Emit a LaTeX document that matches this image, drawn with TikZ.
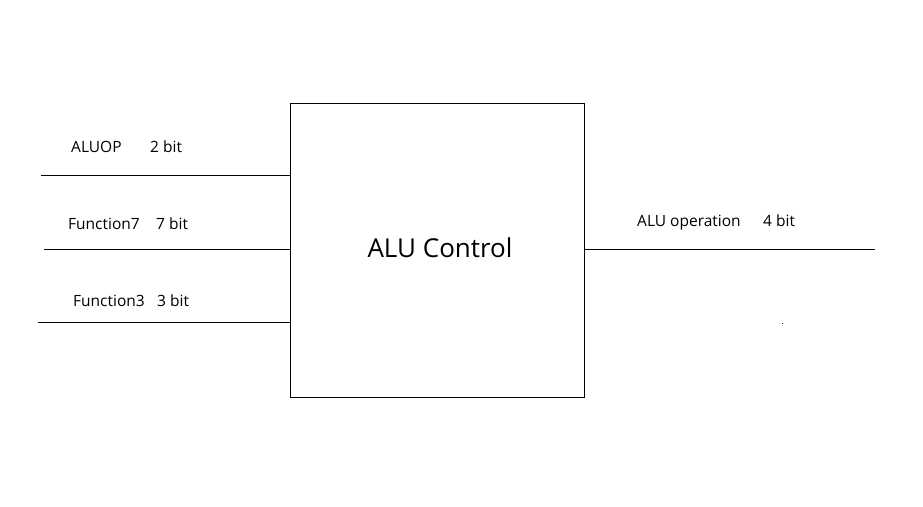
\documentclass[tikz,border=0pt]{standalone}
\usepackage{fontspec}
\setmainfont{Open Sans}
\usetikzlibrary{calc}

\begin{document}
\begin{tikzpicture}[
    x=1pt, y=-1pt,
    ctrl box/.style={draw, thin, minimum width=294pt, minimum height=294pt, inner sep=0pt},
    sig line/.style={thin},
    sig label/.style={anchor=base west, inner sep=0pt, font=\fontsize{15.5}{18}\selectfont}
    ]

    % frame
    \useasboundingbox (0,0) rectangle (923,506);

    % control block
    \node[ctrl box] (ctrl) at (437,250) {};
    \node[inner sep=0pt, font=\fontsize{26}{30}\selectfont] (ctrltext) at (440,248) {ALU Control};

    % input ends
    \coordinate (aluop) at (41,175);
    \coordinate (funct7) at (44,249);
    \coordinate (funct3) at (38,322);
    % output end
    \coordinate (aluoper) at (875,249);

    % inputs
    \draw[sig line] (aluop) -- (aluop -| ctrl.west);
    \draw[sig line] (funct7) -- (funct7 -| ctrl.west);
    \draw[sig line] (funct3) -- (funct3 -| ctrl.west);
    % output
    \draw[sig line] (aluoper -| ctrl.east) -- (aluoper);

    % labels
    \node[sig label] (aluopname) at (71,152) {ALUOP};
    \node[sig label] (aluopwidth) at (150,152) {2 bit};
    \node[sig label] (funct7name) at (68,229) {Function7};
    \node[sig label] (funct7width) at (156,229) {7 bit};
    \node[sig label] (funct3name) at (73,306) {Function3};
    \node[sig label] (funct3width) at (157,306) {3 bit};
    \node[sig label] (aluopername) at (637,226) {ALU operation};
    \node[sig label] (aluoperwidth) at (763,226) {4 bit};

    % stray dot
    \fill (781.5,322.5) rectangle (783,324);
\end{tikzpicture}
\end{document}
